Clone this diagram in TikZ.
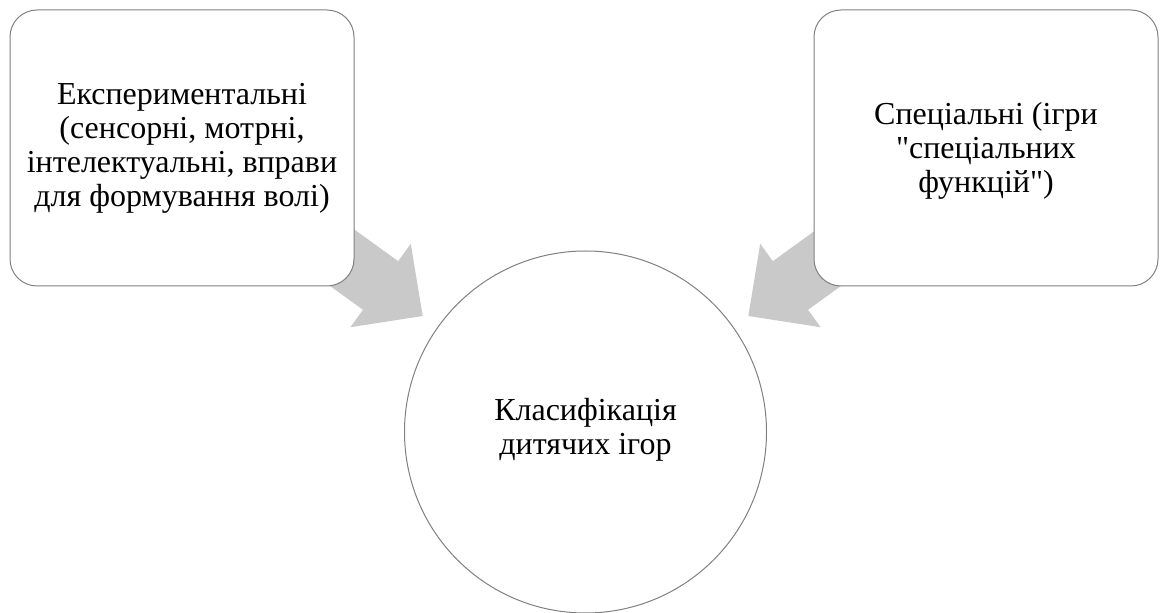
\documentclass[tikz,border=0pt]{standalone}
\usepackage{fontspec}
\setmainfont{Liberation Serif}[Ligatures=TeXOff]
\begin{document}
\begin{tikzpicture}[x=1pt,y=1pt,
  boxstyle/.style={draw=black!50, line width=1pt, fill=white, rounded corners=27pt},
  circstyle/.style={draw=black!50, line width=1pt, fill=white},
  arrowfill/.style={fill=black!21, draw=none},
  txt/.style={align=center, font=\fontsize{32}{34}\selectfont, text=black}]
\useasboundingbox (0,0) rectangle (1168,613);
% block arrows (drawn behind the boxes)
\begin{scope}[shift={(422.7,297)}, rotate=-35.9]
  \fill[arrowfill] (0,0) -- (-52,51.5) -- (-52,30) -- (-150,30) -- (-150,-30) -- (-52,-30) -- (-52,-51.5) -- cycle;
\end{scope}
\begin{scope}[shift={(748.3,297)}, rotate=-144.1]
  \fill[arrowfill] (0,0) -- (-52,51.5) -- (-52,30) -- (-150,30) -- (-150,-30) -- (-52,-30) -- (-52,-51.5) -- cycle;
\end{scope}
% boxes
\draw[boxstyle] (10,327) rectangle (354,603);
\node[txt] (left) at (182,465) {Експериментальні\\(сенсорні, мотрні,\\інтелектуальні, вправи\\для формування волі)};
\draw[boxstyle] (814,327) rectangle (1158,603);
\node[txt] (right) at (986,462) {Спеціальні (ігри\\"спеціальних\\функцій")};
% circle
\draw[circstyle] (585.5,181) circle (181);
\node[txt] (center) at (585.5,183) {Класифікація\\дитячих ігор};
\end{tikzpicture}
\end{document}
